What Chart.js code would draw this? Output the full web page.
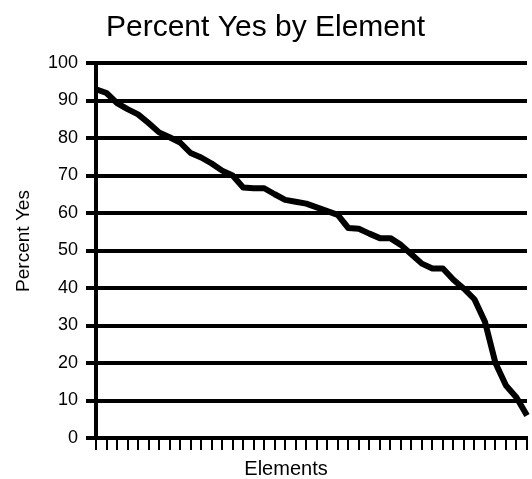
<!doctype html>
<html lang="en">
<head>
  <meta charset="utf-8">
  <title>Percent Yes by Element</title>
  <script src="https://cdn.jsdelivr.net/npm/chart.js/dist/chart.umd.min.js"></script>
  <style>
    * { margin: 0; padding: 0; }
    body { background: #fff; }
    canvas { display: block; }
  </style>
</head>
<body>
<canvas id="myChart" width="532" height="479"></canvas>

<script>
// data
const elements = ['1', '2', '3', '4', '5', '6', '7', '8', '9', '10',
  '11', '12', '13', '14', '15', '16', '17', '18', '19', '20',
  '21', '22', '23', '24', '25', '26', '27', '28', '29', '30',
  '31', '32', '33', '34', '35', '36', '37', '38', '39', '40',
  '41', '42'];
const percentYes = [93, 92, 89.3, 87.7, 86.3, 84, 81.5, 80.2, 78.8, 76,
  74.8, 73.2, 71.3, 70, 66.8, 66.6, 66.6, 65, 63.5, 63,
  62.5, 61.5, 60.5, 59.5, 56, 55.8, 54.5, 53.3, 53.3, 51.5,
  49, 46.5, 45.2, 45.2, 42.2, 39.8, 37, 31, 20, 14,
  10.8, 6];
const yTicks = [0, 10, 20, 30, 40, 50, 60, 70, 80, 90, 100];

const fontFamily = "'Liberation Sans', Arial, sans-serif";

// axis titles drawn by hand so they sit where the original has them
const axisTitles = {
  id: 'axisTitles',
  afterDraw(chart) {
    const ctx = chart.ctx;
    ctx.save();
    ctx.fillStyle = '#000';
    ctx.textAlign = 'center';
    ctx.textBaseline = 'middle';
    ctx.font = '20px ' + fontFamily;
    ctx.fillText('Elements', 286, 469);
    ctx.font = '19px ' + fontFamily;
    ctx.translate(24, 241);
    ctx.rotate(-Math.PI / 2);
    ctx.fillText('Percent Yes', 0, 0);
    ctx.restore();
  }
};

const config = {
  type: 'line',
  data: {
    labels: elements,
    datasets: [{
      label: 'Percent Yes',
      data: percentYes,
      borderColor: '#000',
      borderWidth: 6,
      borderJoinStyle: 'round',
      pointRadius: 0,
      tension: 0
    }]
  },
  options: {
    responsive: false,
    animation: false,
    layout: { padding: { left: 4, right: 5, top: 0, bottom: 0 } },
    plugins: {
      legend: { display: false },
      tooltip: { enabled: false },
      title: {
        display: true,
        text: 'Percent Yes by Element',
        color: '#000',
        font: { family: fontFamily, size: 30, weight: 'normal' },
        padding: { top: 10, bottom: 17 }
      }
    },
    scales: {
      x: {
        ticks: { display: false },
        grid: { drawOnChartArea: false, color: '#000', lineWidth: 2, tickLength: 12 },
        border: { color: '#000', width: 4 },
        afterFit: (scale) => { scale.height = 41; }
      },
      y: {
        min: yTicks[0],
        max: yTicks[yTicks.length - 1],
        ticks: {
          stepSize: yTicks[1] - yTicks[0],
          color: '#000',
          padding: 8,
          font: { family: fontFamily, size: 18 }
        },
        grid: { color: '#000', lineWidth: 4, tickLength: 10 },
        border: { color: '#000', width: 4 },
        afterFit: (scale) => { scale.width = 92; }
      }
    }
  },
  plugins: [axisTitles]
};

const myChart = new Chart(document.getElementById('myChart'), config);
</script>
</body>
</html>
